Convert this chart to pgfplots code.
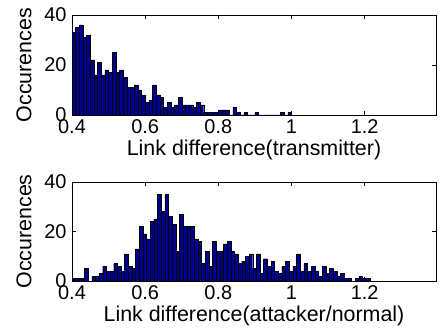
\documentclass[border=0pt]{standalone}
\usepackage{fontspec}
\setmainfont{Liberation Sans}
\usepackage{pgfplots}
\pgfplotsset{compat=1.18}
\usepackage{pgfplotstable}
\definecolor{matblue}{RGB}{0,0,143}

\pgfplotstableread{
x y
0.405 33
0.415 35
0.425 36
0.435 31
0.445 32
0.455 22
0.465 16
0.475 21
0.485 16
0.495 18
0.505 17
0.515 25
0.525 17
0.535 18
0.545 15
0.555 11
0.565 11
0.575 12
0.585 10
0.595 8
0.605 5
0.615 6
0.625 12
0.635 8
0.645 7
0.655 3
0.665 5
0.675 3
0.685 4
0.695 7
0.705 4
0.715 4
0.725 4
0.735 3
0.745 5
0.755 4
0.765 1
0.775 1
0.785 1
0.795 1
0.805 2
0.815 2
0.825 2
0.835 0
0.845 3
0.855 1
0.865 0
0.875 1
0.885 0
0.895 0
0.905 1
0.915 0
0.925 0
0.935 0
0.945 0
0.955 0
0.965 0
0.975 1
0.985 0
0.995 1
}\toptable

\pgfplotstableread{
x y
0.409 1
0.419 1
0.429 1
0.439 5
0.449 0
0.459 2
0.469 2
0.479 3
0.489 6
0.499 4
0.509 4
0.519 7
0.529 6
0.539 4
0.549 11
0.559 6
0.569 5
0.579 13
0.589 22
0.599 19
0.609 17
0.619 24
0.629 25
0.639 35
0.649 28
0.659 35
0.669 26
0.679 23
0.689 12
0.699 27
0.709 22
0.719 22
0.729 22
0.739 17
0.749 16
0.759 7
0.769 12
0.779 6
0.789 16
0.799 12
0.809 12
0.819 15
0.829 16
0.839 12
0.849 11
0.859 7
0.869 8
0.879 10
0.889 11
0.899 5
0.909 11
0.919 3
0.929 9
0.939 6
0.949 8
0.959 4
0.969 3
0.979 6
0.989 8
0.999 4
1.009 6
1.019 11
1.029 4
1.039 7
1.049 4
1.059 6
1.069 4
1.079 2
1.089 6
1.099 3
1.109 5
1.119 4
1.129 2
1.139 3
1.149 1
1.159 1
1.169 0
1.179 1
1.189 2
1.199 1
1.209 1
}\bottable

\pgfplotsset{
  histax/.style={
    scale only axis,
    width=364bp,
    height=100bp,
    anchor=south west,
    xmin=0.4, xmax=1.395,
    ymin=0, ymax=40,
    xtick={0.4,0.6,0.8,1,1.2},
    ytick={0,20,40},
    tick align=inside,
    xtick pos=both,
    ytick pos=both,
    major tick length=4bp,
    axis line style={black, line width=0.6pt},
    tick style={black, line width=0.5pt},
    /pgf/number format/assume math mode=true,
    every tick label/.append style={font=\fontsize{20}{23}\selectfont},
    xticklabel style={yshift=-1bp},
    yticklabel style={xshift=-2bp},
    label style={font=\fontsize{21.5}{24}\selectfont},
    ylabel={Occurences},
    ylabel style={yshift=6bp},
    xlabel style={yshift=0bp},
  }
}

\begin{document}
\begin{tikzpicture}
\useasboundingbox (0bp,0bp) rectangle (441bp,332bp);
\begin{axis}[histax, at={(72bp,217bp)}, xlabel={Link difference(transmitter)}]
\addplot[ybar, bar width=0.01, bar shift=0pt, fill=matblue, draw=black, line width=0.4pt] table[x=x,y=y] {\toptable};
\end{axis}
\begin{axis}[histax, at={(72bp,51bp)}, height=99bp, xlabel={Link difference(attacker/normal)}]
\addplot[ybar, bar width=0.01, bar shift=0pt, fill=matblue, draw=black, line width=0.4pt] table[x=x,y=y] {\bottable};
\end{axis}
\end{tikzpicture}
\end{document}
